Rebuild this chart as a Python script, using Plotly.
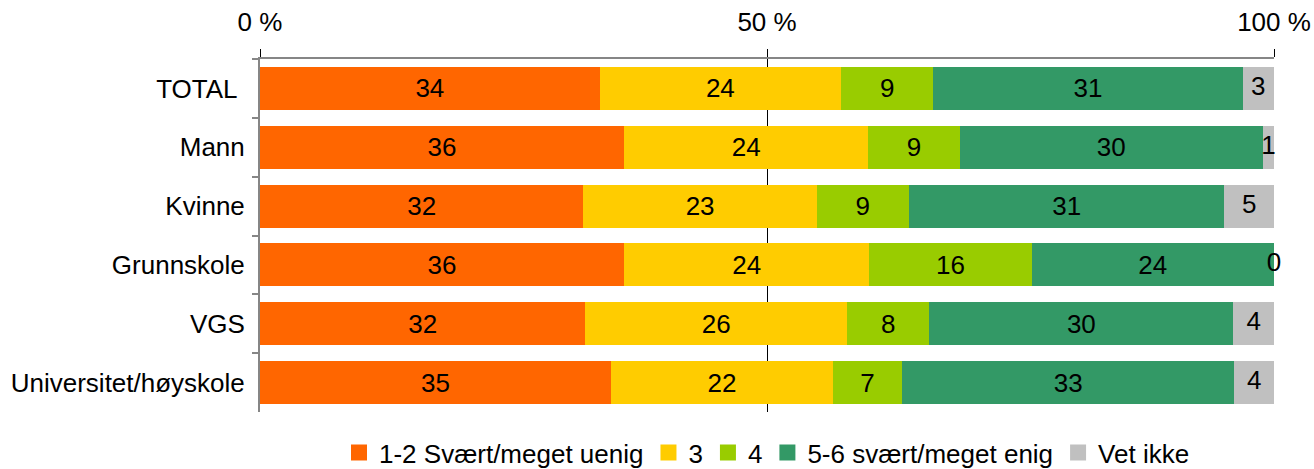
import plotly.graph_objects as go

categories = ["TOTAL\u00a0", "Mann", "Kvinne", "Grunnskole", "VGS", "Universitet/høyskole"]
series_names = ["1-2 Svært/meget uenig", "3", "4", "5-6 svært/meget enig", "Vet ikke"]
uenig = [33.5, 35.9, 31.9, 35.9, 32.1, 34.6]
tre = [23.8, 24.1, 23.0, 24.2, 25.8, 21.9]
fire = [9.1, 9.0, 9.1, 16.0, 8.1, 6.8]
enig = [30.5, 29.9, 31.1, 23.9, 30.0, 32.8]
vet_ikke = [3.1, 1.1, 4.9, 0.0, 4.0, 3.9]
colors = ["#FF6600", "#FFCC00", "#99CC00", "#339966", "#C0C0C0"]
x_tickvals = [0, 50, 100]
x_ticktext = ["0 %", "50 %", "100 %"]

FONT = "Liberation Sans, Arial, sans-serif"
FS = 26

series = [uenig, tre, fire, enig, vet_ikke]
fig = go.Figure()
for i, (name, vals, col) in enumerate(zip(series_names, series, colors)):
    last = i == len(series) - 1
    fig.add_trace(go.Bar(
        y=categories, x=vals, name=name, orientation="h",
        marker=dict(color=col, line=dict(width=0)),
        texttemplate="%{x:.0f}",
        textposition="none" if last else "inside",
        insidetextanchor="middle", textangle=0,
        textfont=dict(family=FONT, size=FS, color="black"),
        hoverinfo="skip", showlegend=False,
    ))

# labels for the last (narrow) segment, centred on it even if it does not fit
cum = [sum(s[k] for s in series[:-1]) for k in range(len(categories))]
fig.add_trace(go.Scatter(
    y=categories, x=[c + v / 2 for c, v in zip(cum, vet_ikke)],
    mode="text", text=[f"{v:.0f}" for v in vet_ikke],
    textfont=dict(family=FONT, size=FS, color="black"),
    textposition="middle center", showlegend=False, hoverinfo="skip",
    cliponaxis=False,
))

# legend entries with square swatches
for name, col in zip(series_names, colors):
    fig.add_trace(go.Scatter(
        x=[None], y=[None], mode="markers", name=name,
        marker=dict(symbol="square", size=16, color=col),
        hoverinfo="skip",
    ))

fig.update_layout(
    barmode="stack", bargap=0.27,
    width=1314, height=469,
    margin=dict(l=260, r=40, t=59, b=57, autoexpand=False),
    paper_bgcolor="white", plot_bgcolor="white",
    font=dict(family=FONT, size=FS, color="black"),
    uniformtext=dict(minsize=FS, mode="show"),
    legend=dict(orientation="h", x=0.5, xanchor="center", y=-0.115, yanchor="middle",
                font=dict(family=FONT, size=FS), itemwidth=30, traceorder="normal",
                tracegroupgap=0),
    xaxis=dict(side="top", range=[0, 100], tickvals=x_tickvals, ticktext=x_ticktext,
               showline=True, linecolor="#868686", linewidth=2,
               ticks="outside", ticklen=8, tickcolor="black", tickwidth=1,
               showgrid=True, gridcolor="black", gridwidth=1, zeroline=False,
               ticklabelstandoff=8, automargin=False,
               tickfont=dict(family=FONT, size=FS)),
    yaxis=dict(autorange="reversed", showline=True, linecolor="#868686", linewidth=2,
               ticks="outside", ticklen=6, tickcolor="#868686", tickwidth=2,
               tickson="boundaries", showgrid=False, zeroline=False,
               ticklabelstandoff=8, automargin=False,
               tickfont=dict(family=FONT, size=FS)),
)

fig.write_html("out.html", config={"displayModeBar": False},
               post_script="document.body.style.margin='0';document.body.style.overflow='hidden';")
